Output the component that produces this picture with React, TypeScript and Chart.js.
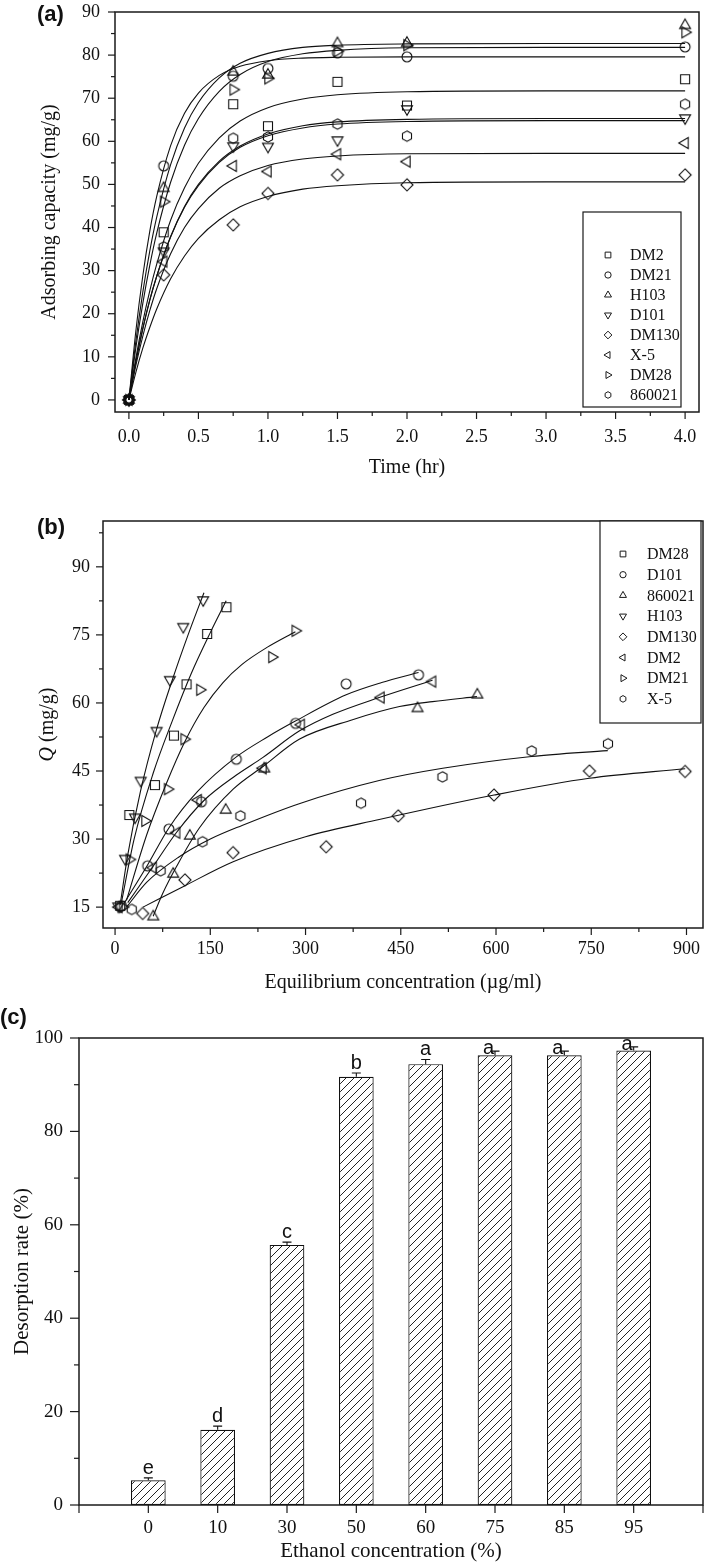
import React, { useEffect, useRef } from 'react';
import { Chart, registerables } from 'chart.js';

Chart.register(...registerables);

const SERIF = '"Liberation Serif", "Times New Roman", serif';
const SANS = '"Liberation Sans", Arial, sans-serif';

// ================= Panel (a): adsorption kinetics =================
const kineticTimes = [0, 0.25, 0.75, 1, 1.5, 2, 4];
const kinDM2 = [0, 38.9, 68.6, 63.5, 73.8, 68.3, 74.4];
const kinDM21 = [0, 54.3, 75.1, 76.9, 80.5, 79.6, 81.9];
const kinH103 = [0, 49.1, 76.1, 75.4, 82.7, 82.8, 86.9];
const kinD101 = [0, 34.5, 58.9, 58.8, 60.3, 67.5, 65.4];
const kinDM130 = [0, 29.0, 40.6, 47.9, 52.2, 49.9, 52.2];
const kinX5 = [0, 32.1, 54.3, 53.0, 57.0, 55.3, 59.6];
const kinDM28 = [0, 46.0, 72.0, 74.6, 80.9, 82.3, 85.3];
const kin860021 = [0, 35.5, 60.7, 61.0, 64.0, 61.2, 68.6];

// fitted curves
const fitTimes = [0, 0.05, 0.1, 0.15, 0.2, 0.3, 0.4, 0.5, 0.65, 0.8, 1, 1.25, 1.5, 2, 3, 4];
const fitH103 = [0, 13.6, 25.0, 34.5, 42.4, 54.6, 63.1, 69.0, 74.7, 78.1, 80.4, 81.8, 82.3, 82.6, 82.7, 82.7];
const fitDM21 = [0, 16.0, 28.8, 39.1, 47.2, 59.0, 66.5, 71.2, 75.3, 77.4, 78.7, 79.3, 79.5, 79.6, 79.6, 79.6];
const fitDM28 = [0, 12.1, 22.4, 31.2, 38.7, 50.5, 59.1, 65.3, 71.6, 75.5, 78.5, 80.3, 81.1, 81.7, 81.8, 81.8];
const fitDM2 = [0, 9.7, 18.1, 25.3, 31.5, 41.7, 49.2, 54.9, 60.8, 64.7, 67.8, 69.8, 70.8, 71.5, 71.7, 71.7];
const fit860021 = [0, 8.8, 16.5, 23.1, 28.7, 37.9, 44.9, 50.0, 55.4, 58.9, 61.7, 63.6, 64.5, 65.1, 65.3, 65.3];
const fitD101 = [0, 8.9, 16.6, 23.2, 28.7, 37.8, 44.7, 49.7, 55.1, 58.6, 61.3, 63.1, 64.0, 64.6, 64.8, 64.8];
const fitX5 = [0, 8.0, 14.8, 20.7, 25.8, 33.9, 40.0, 44.4, 49.1, 52.0, 54.4, 55.9, 56.6, 57.1, 57.2, 57.2];
const fitDM130 = [0, 6.4, 12.0, 16.8, 21.1, 28.1, 33.4, 37.5, 41.8, 44.8, 47.2, 48.9, 49.7, 50.4, 50.6, 50.6];

// ================= Panel (b): isotherms =================
const concDM28 = [8, 22.5, 62.8, 92.7, 112.6, 145, 175.4];
const qDM28 = [15.3, 35.3, 41.9, 52.8, 64.1, 75.2, 81.1];
const concD101 = [10, 51.3, 84.8, 136, 191, 284.3, 364, 478];
const qD101 = [15.3, 24.1, 32.2, 38.2, 47.6, 55.5, 64.2, 66.2];
const conc860021 = [60.2, 91.6, 117.8, 174.3, 235, 476.4, 570.6];
const q860021 = [12.9, 22.3, 30.7, 36.4, 45.5, 58.8, 61.8];
const concH103 = [5, 15.7, 31.4, 40.3, 65.4, 86.4, 107.3, 138.7];
const qH103 = [15.2, 25.7, 34.8, 42.9, 53.9, 65.1, 76.8, 82.7];
const concDM130 = [43.5, 110, 185.8, 332.5, 446, 596.8, 747.1, 897.8];
const qDM130 = [13.6, 21.0, 27.0, 28.3, 35.1, 39.7, 45.0, 44.9];
const concDM2 = [6, 60, 96.9, 130.9, 233, 293.2, 418.8, 500];
const qDM2 = [15.0, 23.7, 31.4, 38.6, 45.6, 55.2, 61.2, 64.7];
const concDM21 = [12, 22.5, 47.1, 82.7, 108.9, 133.5, 247, 283.8];
const qDM21 = [15.0, 25.5, 34.0, 41.0, 52.0, 62.9, 70.1, 75.9];
const concX5 = [26.2, 71.7, 137.7, 197.4, 387.4, 515.7, 656, 776.3];
const qX5 = [14.5, 23.0, 29.4, 35.1, 37.9, 43.7, 49.4, 51.0];

// fitted curves (b)
const fitConcDM28 = [10, 30, 60, 90, 120, 150, 175];
const fitQDM28 = [16, 30, 44.5, 56, 66.5, 75.5, 82.5];
const fitConcH103 = [8, 20, 40, 65, 90, 115, 140];
const fitQH103 = [15.5, 26.5, 40.5, 54, 65, 75, 84.3];
const fitConcDM21 = [18, 50, 81, 110, 140, 170, 200, 240, 284];
const fitQDM21 = [16.5, 31, 42.3, 51.5, 59, 64.5, 68.5, 72.3, 75.7];
const fitConcD101 = [15, 50, 85, 130, 190, 240, 284, 364, 420, 478];
const fitQD101 = [16, 24, 32.5, 40.5, 48, 52.5, 56, 61.8, 64.5, 66.7];
const fitConcDM2 = [20, 60, 97, 140, 190, 233, 290, 343, 416, 500];
const fitQDM2 = [16, 24, 31.5, 38.5, 44, 48, 53.8, 57.5, 61.2, 65];
const fitConc860021 = [60, 75, 97, 133, 186, 233, 290, 374, 448, 500, 570];
const fitQ860021 = [13, 18, 24, 32.5, 41, 46, 52, 56.3, 59.2, 60.3, 61.4];
const fitConcX5 = [18, 50, 100, 150, 200, 290, 416, 516, 656, 776];
const fitQX5 = [15, 20.5, 26, 30, 33, 37.8, 42.9, 45.6, 48.2, 49.5];
const fitConcDM130 = [44, 107, 186, 300, 416, 597, 747, 898];
const fitQDM130 = [15, 19.5, 25, 30.5, 34.3, 39.7, 43.4, 45.5];

// ================= Panel (c): desorption =================
const ethanolConc = ['0', '10', '30', '50', '60', '75', '85', '95'];
const desorptionRate = [5.3, 16.1, 55.7, 91.7, 94.4, 96.3, 96.3, 97.3];
const desorptionErr = [0.5, 0.8, 0.6, 0.8, 1.0, 0.9, 0.9, 0.8];
const sigLetters = ['e', 'd', 'c', 'b', 'a', 'a', 'a', 'a'];

// ================= helpers =================
type Shape = 'square' | 'circle' | 'up' | 'down' | 'left' | 'right' | 'diamond' | 'hexagon';

function traceMarker(ctx: CanvasRenderingContext2D, shape: Shape, x: number, y: number, s: number) {
  ctx.beginPath();
  const poly = (pts: number[][]) => {
    pts.forEach(([px, py], i) => (i ? ctx.lineTo(x + px, y + py) : ctx.moveTo(x + px, y + py)));
    ctx.closePath();
  };
  const tri = (ang: number) => {
    const R = s * 1.15;
    const pts: number[][] = [];
    for (let k = 0; k < 3; k++) {
      const a = ang + (k * 2 * Math.PI) / 3;
      pts.push([R * Math.cos(a), R * Math.sin(a)]);
    }
    poly(pts);
  };
  switch (shape) {
    case 'square': {
      const h = s * 0.82;
      ctx.rect(x - h, y - h, 2 * h, 2 * h);
      break;
    }
    case 'circle':
      ctx.arc(x, y, s * 0.9, 0, Math.PI * 2);
      break;
    case 'up': tri(-Math.PI / 2); break;
    case 'down': tri(Math.PI / 2); break;
    case 'left': tri(Math.PI); break;
    case 'right': tri(0); break;
    case 'diamond': {
      const d = s * 1.1;
      poly([[0, -d], [d, 0], [0, d], [-d, 0]]);
      break;
    }
    case 'hexagon': {
      const R = s * 0.95;
      const pts: number[][] = [];
      for (let k = 0; k < 6; k++) {
        const a = -Math.PI / 2 + (k * Math.PI) / 3;
        pts.push([R * Math.cos(a), R * Math.sin(a)]);
      }
      poly(pts);
      break;
    }
  }
}

function markerImage(shape: Shape, s: number) {
  const size = 2 * Math.ceil(s * 1.2) + 4;
  const c = document.createElement('canvas');
  c.width = size;
  c.height = size;
  const g = c.getContext('2d')!;
  g.strokeStyle = '#111';
  g.lineWidth = 1.1;
  traceMarker(g, shape, size / 2, size / 2, s);
  g.stroke();
  return c;
}

function fixY(width: number) {
  return (scale: any) => {
    scale.width = width;
    scale.paddingTop = 0;
    scale.paddingBottom = 0;
    scale.paddingLeft = 0;
    scale.paddingRight = 0;
  };
}
function fixX(height: number) {
  return (scale: any) => {
    scale.height = height;
    scale.paddingTop = 0;
    scale.paddingBottom = 0;
    scale.paddingLeft = 0;
    scale.paddingRight = 0;
  };
}

type TickCfg = { id: string; major: number; minor: number; minorStep?: number };
type LegendCfg = {
  x: number; y: number; w: number; h: number; firstY: number; rowH: number;
  markerX: number; textX: number; markerSize: number; items: { label: string; shape: Shape }[];
};
type DecorCfg = {
  name: string;
  ticks: TickCfg[];
  label: { text: string; x: number; y: number; size: number };
  legend?: LegendCfg;
  richYTitle?: { x: number; parts: { text: string; italic: boolean }[]; size: number };
};

function makeDecor(cfg: DecorCfg) {
  return {
    id: 'decor' + cfg.name,
    afterDraw(chart: any) {
      const ctx: CanvasRenderingContext2D = chart.ctx;
      const ca = chart.chartArea;
      ctx.save();
      ctx.strokeStyle = '#1a1a1a';
      ctx.lineWidth = 1.5;
      ctx.strokeRect(ca.left, ca.top, ca.right - ca.left, ca.bottom - ca.top);
      ctx.lineWidth = 1.2;
      for (const t of cfg.ticks) {
        const sc = chart.scales[t.id];
        const horiz = sc.isHorizontal();
        const draw = (p: number, len: number) => {
          ctx.beginPath();
          if (horiz) {
            ctx.moveTo(p, ca.bottom);
            ctx.lineTo(p, ca.bottom + len);
          } else {
            ctx.moveTo(ca.left, p);
            ctx.lineTo(ca.left - len, p);
          }
          ctx.stroke();
        };
        sc.ticks.forEach((_: any, i: number) => draw(sc.getPixelForTick(i), t.major));
        if (t.minorStep) {
          const vals = sc.ticks.map((k: any) => k.value);
          for (let v = vals[0] - t.minorStep; v <= sc.max + 1e-9; v += t.minorStep) {
            if (v < sc.min - 1e-9) continue;
            if (vals.some((m: number) => Math.abs(m - v) < 1e-9)) continue;
            draw(sc.getPixelForValue(v), t.minor);
          }
        }
      }
      // panel label
      ctx.fillStyle = '#111';
      ctx.font = `bold ${cfg.label.size}px ${SANS}`;
      ctx.textAlign = 'left';
      ctx.textBaseline = 'middle';
      ctx.fillText(cfg.label.text, cfg.label.x, cfg.label.y);
      // legend
      if (cfg.legend) {
        const L = cfg.legend;
        ctx.fillStyle = '#fff';
        ctx.fillRect(L.x, L.y, L.w, L.h);
        ctx.strokeStyle = '#1a1a1a';
        ctx.lineWidth = 1.2;
        ctx.strokeRect(L.x, L.y, L.w, L.h);
        ctx.font = `16px ${SERIF}`;
        ctx.fillStyle = '#111';
        ctx.textBaseline = 'middle';
        L.items.forEach((it, i) => {
          const y = L.firstY + i * L.rowH;
          ctx.lineWidth = 1;
          traceMarker(ctx, it.shape, L.markerX, y, L.markerSize);
          ctx.stroke();
          ctx.fillText(it.label, L.textX, y + 1);
        });
      }
      // rich y title
      if (cfg.richYTitle) {
        const T = cfg.richYTitle;
        const cy = (ca.top + ca.bottom) / 2;
        ctx.translate(T.x, cy);
        ctx.rotate(-Math.PI / 2);
        ctx.fillStyle = '#111';
        ctx.textBaseline = 'middle';
        ctx.textAlign = 'left';
        const fonts = T.parts.map((p) => `${p.italic ? 'italic ' : ''}${T.size}px ${SERIF}`);
        let total = 0;
        T.parts.forEach((p, i) => {
          ctx.font = fonts[i];
          total += ctx.measureText(p.text).width;
        });
        let x = -total / 2;
        T.parts.forEach((p, i) => {
          ctx.font = fonts[i];
          ctx.fillText(p.text, x, 0);
          x += ctx.measureText(p.text).width;
        });
      }
      ctx.restore();
    },
  };
}

const tickFont = (size: number) => ({ family: SERIF, size });

function buildScatterChart(
  canvas: HTMLCanvasElement,
  series: { label: string; shape: Shape; x: number[]; y: number[]; fx: number[]; fy: number[] }[],
  opts: {
    padTop: number; padRight: number; yWidth: number; xHeight: number;
    xMin: number; xMax: number; xStep: number; yMin: number; yMax: number; yStep: number;
    xFmt?: (v: number) => string; xTitle: string; xTitlePad: number; yTitle?: string; yTitlePad?: number;
    xTickPad: number; yTickPad: number;
  },
  decor: DecorCfg,
) {
  const datasets: any[] = [];
  series.forEach((s) => {
    datasets.push({
      label: s.label,
      data: s.x.map((v, i) => ({ x: v, y: s.y[i] })),
      showLine: false,
      pointStyle: markerImage(s.shape, 5.5),
      pointRadius: 5,
      borderColor: '#111',
    });
  });
  series.forEach((s) => {
    datasets.push({
      label: s.label + ' fit',
      data: s.fx.map((v, i) => ({ x: v, y: s.fy[i] })),
      pointRadius: 0,
      borderColor: '#111',
      borderWidth: 1.1,
      cubicInterpolationMode: 'monotone',
      fill: false,
    });
  });
  return new Chart(canvas, {
    type: 'line',
    data: { datasets },
    options: {
      responsive: false,
      animation: false,
      events: [],
      layout: { padding: { top: opts.padTop, right: opts.padRight, left: 0, bottom: 0 } },
      plugins: { legend: { display: false }, tooltip: { enabled: false } },
      scales: {
        x: {
          type: 'linear',
          min: opts.xMin,
          max: opts.xMax,
          grid: { display: false, drawTicks: false },
          border: { display: false },
          ticks: {
            stepSize: opts.xStep,
            includeBounds: false,
            autoSkip: false,
            maxRotation: 0,
            padding: opts.xTickPad,
            font: tickFont(18),
            color: '#111',
            callback: (v: any) => (opts.xFmt ? opts.xFmt(Number(v)) : String(v)),
          },
          title: {
            display: true,
            text: opts.xTitle,
            font: { family: SERIF, size: 20 },
            color: '#111',
            padding: { top: 0, bottom: opts.xTitlePad },
          },
          afterFit: fixX(opts.xHeight),
        },
        y: {
          type: 'linear',
          min: opts.yMin,
          max: opts.yMax,
          grid: { display: false, drawTicks: false },
          border: { display: false },
          ticks: {
            stepSize: opts.yStep,
            includeBounds: false,
            autoSkip: false,
            padding: opts.yTickPad,
            font: tickFont(18),
            color: '#111',
          },
          title: {
            display: !!opts.yTitle,
            text: opts.yTitle || '',
            font: { family: SERIF, size: 20 },
            color: '#111',
            padding: { top: opts.yTitlePad || 0, bottom: 0 },
          },
          afterFit: fixY(opts.yWidth),
        },
      },
    } as any,
    plugins: [makeDecor(decor)],
  });
}

export default function App() {
  const refA = useRef<HTMLCanvasElement>(null);
  const refB = useRef<HTMLCanvasElement>(null);
  const refC = useRef<HTMLCanvasElement>(null);

  useEffect(() => {
    Chart.defaults.font.family = SERIF;
    Chart.defaults.color = '#111';

    // ---------- Panel (a)
    const seriesA = [
      { label: 'DM2', shape: 'square' as Shape, y: kinDM2, fy: fitDM2 },
      { label: 'DM21', shape: 'circle' as Shape, y: kinDM21, fy: fitDM21 },
      { label: 'H103', shape: 'up' as Shape, y: kinH103, fy: fitH103 },
      { label: 'D101', shape: 'down' as Shape, y: kinD101, fy: fitD101 },
      { label: 'DM130', shape: 'diamond' as Shape, y: kinDM130, fy: fitDM130 },
      { label: 'X-5', shape: 'left' as Shape, y: kinX5, fy: fitX5 },
      { label: 'DM28', shape: 'right' as Shape, y: kinDM28, fy: fitDM28 },
      { label: '860021', shape: 'hexagon' as Shape, y: kin860021, fy: fit860021 },
    ].map((s) => ({ ...s, x: kineticTimes, fx: fitTimes }));

    const chartA = buildScatterChart(
      refA.current!,
      seriesA,
      {
        padTop: 12, padRight: 10, yWidth: 115, xHeight: 88,
        xMin: -0.1, xMax: 4.1, xStep: 0.5, yMin: -2.8, yMax: 90, yStep: 10,
        xFmt: (v) => v.toFixed(1), xTitle: 'Time (hr)', xTitlePad: 20,
        yTitle: 'Adsorbing capacity (mg/g)', yTitlePad: 38, xTickPad: 14, yTickPad: 15,
      },
      {
        name: 'A',
        ticks: [
          { id: 'x', major: 7, minor: 4, minorStep: 0.25 },
          { id: 'y', major: 7, minor: 4, minorStep: 5 },
        ],
        label: { text: '(a)', x: 37, y: 15, size: 22 },
        legend: {
          x: 583, y: 212, w: 98, h: 195, firstY: 255, rowH: 20, markerX: 608, textX: 630, markerSize: 3.5,
          items: seriesA.map((s) => ({ label: s.label, shape: s.shape })),
        },
      },
    );

    // ---------- Panel (b)
    const seriesB = [
      { label: 'DM28', shape: 'square' as Shape, x: concDM28, y: qDM28, fx: fitConcDM28, fy: fitQDM28 },
      { label: 'D101', shape: 'circle' as Shape, x: concD101, y: qD101, fx: fitConcD101, fy: fitQD101 },
      { label: '860021', shape: 'up' as Shape, x: conc860021, y: q860021, fx: fitConc860021, fy: fitQ860021 },
      { label: 'H103', shape: 'down' as Shape, x: concH103, y: qH103, fx: fitConcH103, fy: fitQH103 },
      { label: 'DM130', shape: 'diamond' as Shape, x: concDM130, y: qDM130, fx: fitConcDM130, fy: fitQDM130 },
      { label: 'DM2', shape: 'left' as Shape, x: concDM2, y: qDM2, fx: fitConcDM2, fy: fitQDM2 },
      { label: 'DM21', shape: 'right' as Shape, x: concDM21, y: qDM21, fx: fitConcDM21, fy: fitQDM21 },
      { label: 'X-5', shape: 'hexagon' as Shape, x: concX5, y: qX5, fx: fitConcX5, fy: fitQX5 },
    ];
    const chartB = buildScatterChart(
      refB.current!,
      seriesB,
      {
        padTop: 21, padRight: 4, yWidth: 103, xHeight: 72,
        xMin: -19, xMax: 926, xStep: 150, yMin: 10.4, yMax: 100.1, yStep: 15,
        xTitle: 'Equilibrium concentration (\u00b5g/ml)', xTitlePad: 5, xTickPad: 10, yTickPad: 13,
      },
      {
        name: 'B',
        ticks: [
          { id: 'x', major: 7, minor: 4, minorStep: 75 },
          { id: 'y', major: 7, minor: 4, minorStep: 7.5 },
        ],
        label: { text: '(b)', x: 37, y: 28, size: 22 },
        legend: {
          x: 600, y: 21, w: 101, h: 202, firstY: 54, rowH: 20.7, markerX: 623, textX: 647, markerSize: 3.5,
          items: seriesB.map((s) => ({ label: s.label, shape: s.shape })),
        },
        richYTitle: { x: 48, size: 20, parts: [{ text: 'Q', italic: true }, { text: ' (mg/g)', italic: false }] },
      },
    );

    // ---------- Panel (c)
    const pc = document.createElement('canvas');
    pc.width = 8;
    pc.height = 8;
    const g = pc.getContext('2d')!;
    g.fillStyle = '#fff';
    g.fillRect(0, 0, 8, 8);
    g.strokeStyle = '#222';
    g.lineWidth = 1;
    g.beginPath();
    g.moveTo(0, 8); g.lineTo(8, 0);
    g.moveTo(-1, 1); g.lineTo(1, -1);
    g.moveTo(7, 9); g.lineTo(9, 7);
    g.stroke();
    const hatch = g.createPattern(pc, 'repeat');

    const errPlugin = {
      id: 'errbars',
      afterDatasetsDraw(chart: any) {
        const meta = chart.getDatasetMeta(0);
        const ys = chart.scales.y;
        const ctx: CanvasRenderingContext2D = chart.ctx;
        const ca = chart.chartArea;
        ctx.save();
        ctx.strokeStyle = '#111';
        ctx.fillStyle = '#111';
        ctx.lineWidth = 1.1;
        ctx.font = `20px ${SANS}`;
        ctx.textBaseline = 'alphabetic';
        desorptionRate.forEach((v, i) => {
          const el = meta.data[i + 1];
          if (!el) return;
          const x = el.x;
          const yTop = ys.getPixelForValue(v);
          const yCap = ys.getPixelForValue(v + desorptionErr[i]);
          ctx.beginPath();
          ctx.moveTo(x, yTop);
          ctx.lineTo(x, yCap);
          ctx.moveTo(x - 4.5, yCap);
          ctx.lineTo(x + 4.5, yCap);
          ctx.stroke();
          const m = ctx.measureText(sigLetters[i]);
          const base = yCap - 4;
          if (base - m.actualBoundingBoxAscent < ca.top + 2) {
            ctx.textAlign = 'right';
            ctx.fillText(sigLetters[i], x - 1, yTop - 1);
          } else {
            ctx.textAlign = 'center';
            ctx.fillText(sigLetters[i], x, base);
          }
        });
        ctx.restore();
      },
    };

    const chartC = new Chart(refC.current!, {
      type: 'bar',
      data: {
        labels: ['', ...ethanolConc, ''],
        datasets: [
          {
            label: 'Desorption rate',
            data: [null, ...desorptionRate, null],
            backgroundColor: hatch as any,
            borderColor: '#111',
            borderWidth: 1.2,
            borderSkipped: false,
            categoryPercentage: 1,
            barPercentage: 0.5,
          },
        ],
      },
      options: {
        responsive: false,
        animation: false,
        events: [],
        layout: { padding: { top: 38, right: 6, left: 0, bottom: 0 } },
        plugins: { legend: { display: false }, tooltip: { enabled: false } },
        scales: {
          x: {
            type: 'category',
            offset: false,
            grid: { display: false, drawTicks: false },
            border: { display: false },
            ticks: { autoSkip: false, maxRotation: 0, padding: 12, font: tickFont(19), color: '#111' },
            title: {
              display: true,
              text: 'Ethanol concentration (%)',
              font: { family: SERIF, size: 21 },
              color: '#111',
              padding: { top: 0, bottom: 2 },
            },
            afterFit: fixX(61),
          },
          y: {
            min: 0,
            max: 100,
            grid: { display: false, drawTicks: false },
            border: { display: false },
            ticks: { stepSize: 20, padding: 16, font: tickFont(19), color: '#111' },
            title: {
              display: true,
              text: 'Desorption rate (%)',
              font: { family: SERIF, size: 21 },
              color: '#111',
              padding: { top: 10, bottom: 0 },
            },
            afterFit: fixY(79),
          },
        },
      } as any,
      plugins: [
        errPlugin,
        makeDecor({
          name: 'C',
          ticks: [
            { id: 'x', major: 8, minor: 0 },
            { id: 'y', major: 9, minor: 5, minorStep: 10 },
          ],
          label: { text: '(c)', x: 0, y: 18, size: 22 },
        }),
      ],
    });

    return () => {
      chartA.destroy();
      chartB.destroy();
      chartC.destroy();
    };
  }, []);

  return (
    <div style={{ position: 'absolute', left: 0, top: 0, width: 709, height: 1566, background: '#fff', overflow: 'hidden' }}>
      <canvas ref={refA} width={709} height={500} style={{ position: 'absolute', left: 0, top: 0, display: 'block' }} />
      <canvas ref={refB} width={709} height={500} style={{ position: 'absolute', left: 0, top: 500, display: 'block' }} />
      <canvas ref={refC} width={709} height={566} style={{ position: 'absolute', left: 0, top: 1000, display: 'block' }} />
    </div>
  );
}
